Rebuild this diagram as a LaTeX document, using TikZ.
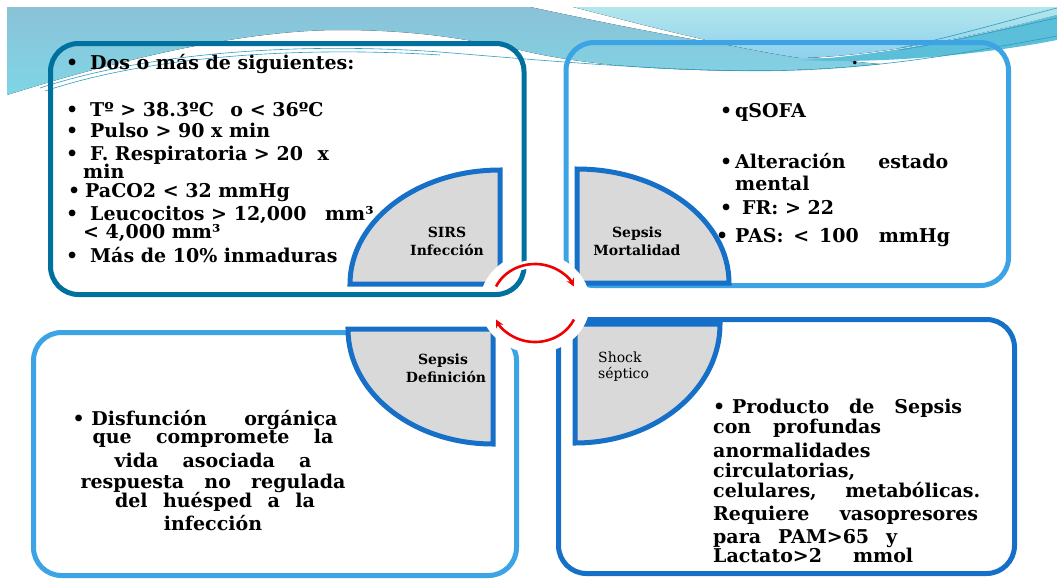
\documentclass[tikz,border=0pt]{standalone}
\usepackage{fontspec}
\setmainfont{DejaVu Serif}
\usetikzlibrary{arrows.meta}
\newlength{\du}
\setlength{\du}{1pt}
\newcommand{\jl}[2]{\makebox[#1\du][s]{#2}}
\newcommand{\bl}[1]{\makebox[#1\du][l]{•}}

\tikzset{
  boxframe/.style={line width=5\du, rounded corners=28\du},
  quarter/.style={fill=piecegray, draw=pieceblue, line width=5\du},
  boxtext/.style={anchor=base west, inner sep=0pt, font=\fontsize{19}{23}\selectfont\bfseries},
  boxtextc/.style={boxtext, anchor=base},
  piecelabel/.style={anchor=base, inner sep=0pt, font=\fontsize{14}{17}\selectfont\bfseries},
  swirl/.style={draw=swirlline, line width=0.6\du},
  cyclecase/.style={draw=white, line width=8\du},
  cyclearrow/.style={draw=cyclered, line width=2.6\du, -{Stealth[length=8pt,width=8pt]}},
}

\begin{document}
\begin{tikzpicture}
\pgftransformxscale{1.000000}
\pgftransformyscale{-1.000000}
\definecolor{bannertop}{RGB}{139,194,216}
\definecolor{bannerbot}{RGB}{126,214,230}
\definecolor{cyantop}{RGB}{179,230,236}
\definecolor{cyanbot}{RGB}{142,208,238}
\definecolor{bandblue}{RGB}{92,191,218}
\definecolor{swirlline}{RGB}{46,155,192}
\definecolor{tealframe}{RGB}{0,112,158}
\definecolor{skyframe}{RGB}{60,163,228}
\definecolor{pieceblue}{RGB}{22,112,200}
\definecolor{piecegray}{RGB}{217,217,217}
\definecolor{cyclered}{RGB}{240,0,0}
\path[use as bounding box] (0\du,0\du) rectangle (1057\du,579\du);

% banner
\fill[top color=bannertop, bottom color=bannerbot] (7\du,7\du) -- (530\du,7\du)
  .. controls (620\du,26\du) and (740\du,52\du) .. (880\du,64\du)
  .. controls (820\du,70\du) and (760\du,72\du) .. (700\du,70\du)
  .. controls (630\du,68\du) and (570\du,62\du) .. (520\du,50\du)
  .. controls (470\du,40\du) and (420\du,30\du) .. (340\du,30\du)
  .. controls (260\du,30\du) and (150\du,50\du) .. (7\du,95\du) -- cycle;
\fill[top color=cyantop, bottom color=cyanbot] (573\du,7\du) -- (1057\du,7\du) -- (1057\du,15\du)
  .. controls (980\du,35\du) and (880\du,56\du) .. (800\du,58\du)
  .. controls (720\du,46\du) and (640\du,24\du) .. (573\du,7\du) -- cycle;
\fill[bandblue] (800\du,60\du) .. controls (880\du,56\du) and (980\du,36\du) .. (1057\du,15\du)
  -- (1057\du,40\du) .. controls (980\du,55\du) and (880\du,64\du) .. (800\du,60\du) -- cycle;
\draw[swirl] (40\du,88\du) .. controls (150\du,52\du) and (300\du,42\du) .. (440\du,52\du)
  .. controls (560\du,62\du) and (700\du,74\du) .. (800\du,70\du)
  .. controls (900\du,66\du) and (980\du,50\du) .. (1057\du,36\du);
\draw[swirl] (45\du,91\du) .. controls (150\du,56\du) and (300\du,46\du) .. (440\du,55\du);
\draw[swirl] (900\du,48\du) .. controls (960\du,35\du) and (1010\du,20\du) .. (1057\du,8\du);
\draw[swirl] (900\du,50\du) .. controls (960\du,40\du) and (1010\du,28\du) .. (1057\du,18\du);

% frames
\draw[boxframe, skyframe] (566\du,42.5\du) rectangle (1008.5\du,285.5\du);
\draw[boxframe, skyframe] (33.5\du,332.5\du) rectangle (516.5\du,575.5\du);
\draw[boxframe, pieceblue] (558.5\du,319.5\du) rectangle (1014.5\du,573.5\du);

% SIRS
\node[boxtext] (sirs1) at (66\du,69\du) {\bl{24}Dos o más de siguientes:};
\node[boxtext] (sirs2) at (66\du,116\du) {\bl{24}Tº > 38.3ºC\hspace{10\du} o < 36ºC};
\node[boxtext] (sirs3) at (66\du,137\du) {\bl{24}Pulso > 90 x min};
\node[boxtext] (sirs4) at (66\du,160\du) {\bl{24}F. Respiratoria > 20\hspace{8\du} x};
\node[boxtext] (sirs5) at (83\du,178\du) {min};
\node[boxtext] (sirs6) at (68\du,197\du) {\bl{17}PaCO2 < 32 mmHg};
\node[boxtext] (sirs7) at (66\du,220\du) {\bl{24}Leucocitos > 12,000\hspace{12\du} mm³};
\node[boxtext] (sirs8) at (83\du,238\du) {< 4,000 mm³};
\node[boxtext] (sirs9) at (66\du,262\du) {\bl{24}Más de 10\% inmaduras};

% qSOFA
\node[anchor=center, inner sep=0pt, font=\fontsize{12}{12}\selectfont] (qsofa0) at (855\du,64\du) {•};
\node[boxtext] (qsofa1) at (720\du,117\du) {\bl{15}qSOFA};
\node[boxtext] (qsofa2) at (720\du,168\du) {\bl{15}\jl{213}{Alteración estado}};
\node[boxtext] (qsofa3) at (735\du,190\du) {mental};
\node[boxtext] (qsofa4) at (720\du,214\du) {\bl{22}FR: > 22};
\node[boxtext] (qsofa5) at (716\du,242\du) {\bl{19}\jl{215}{PAS: < 100\hspace{10\du} mmHg}};

% definicion
\node[boxtextc] (def1) at (205\du,425\du) {\bl{19}\jl{246}{Disfunción orgánica}};
\node[boxtextc] (def2) at (213\du,443\du) {\jl{241}{que compromete la}};
\node[boxtextc] (def3) at (213\du,467\du) {\jl{197}{vida asociada a}};
\node[boxtextc] (def4) at (213\du,488\du) {\jl{265}{respuesta no regulada}};
\node[boxtextc] (def5) at (215\du,507\du) {\jl{200}{del huésped a la}};
\node[boxtextc] (def6) at (213\du,530\du) {infección};

% shock
\node[boxtext] (shock1) at (713\du,413\du) {\bl{19}\jl{230}{Producto de Sepsis}};
\node[boxtext] (shock2) at (713\du,433\du) {\jl{168}{con profundas}};
\node[boxtext] (shock3) at (713\du,457\du) {anormalidades};
\node[boxtext] (shock4) at (713\du,477\du) {circulatorias,};
\node[boxtext] (shock5) at (713\du,497\du) {\jl{267}{celulares, metabólicas.}};
\node[boxtext] (shock6) at (713\du,520\du) {\jl{265}{Requiere vasopresores}};
\node[boxtext] (shock7) at (713\du,543\du) {\jl{184}{para PAM>65 y}};
\node[boxtext] (shock8) at (713\du,562\du) {\jl{200}{Lactato>2 mmol}};

% quarters
\draw[quarter] (500\du,284\du) -- (500\du,170\du) arc[start angle=270, end angle=180, x radius=150\du, y radius=114\du] -- cycle;
\draw[quarter] (577\du,283\du) -- (577\du,169\du) arc[start angle=270, end angle=360, x radius=152\du, y radius=114\du] -- cycle;
\draw[quarter] (493\du,329\du) -- (348\du,329\du) arc[start angle=180, end angle=90, x radius=145\du, y radius=115\du] -- cycle;
\draw[quarter] (575\du,324\du) -- (720\du,324\du) arc[start angle=0, end angle=90, x radius=145\du, y radius=119\du] -- cycle;
\node[piecelabel] (pA1) at (447\du,237\du) {SIRS};
\node[piecelabel] (pA2) at (447\du,255\du) {Infección};
\node[piecelabel] (pB1) at (637\du,237\du) {Sepsis};
\node[piecelabel] (pB2) at (637\du,255\du) {Mortalidad};
\node[piecelabel] (pC1) at (443\du,364\du) {Sepsis};
\node[piecelabel] (pC2) at (446\du,382\du) {Definición};
\node[piecelabel, anchor=base west, font=\fontsize{14}{17}\selectfont] (pD1) at (598\du,362\du) {Shock};
\node[piecelabel, anchor=base west, font=\fontsize{14}{17}\selectfont] (pD2) at (598\du,378\du) {séptico};

% cycle
\coordinate (cyc) at (535\du,303\du);
\coordinate (cycUL) at (496.03\du,286.52\du);
\coordinate (cycLR) at (573.97\du,319.48\du);
\fill[white] (cyc) ellipse[x radius=55\du, y radius=50\du];
\draw[boxframe, tealframe] (50.5\du,43.5\du) rectangle (524\du,294.5\du);
\draw[cyclecase] (cycUL) arc[start angle=-155, end angle=-25, x radius=43\du, y radius=39\du];
\draw[cyclecase] (cycLR) arc[start angle=25, end angle=155, x radius=43\du, y radius=39\du];
\draw[cyclearrow] (cycUL) arc[start angle=-155, end angle=-25, x radius=43\du, y radius=39\du];
\draw[cyclearrow] (cycLR) arc[start angle=25, end angle=155, x radius=43\du, y radius=39\du];
\end{tikzpicture}
\end{document}
